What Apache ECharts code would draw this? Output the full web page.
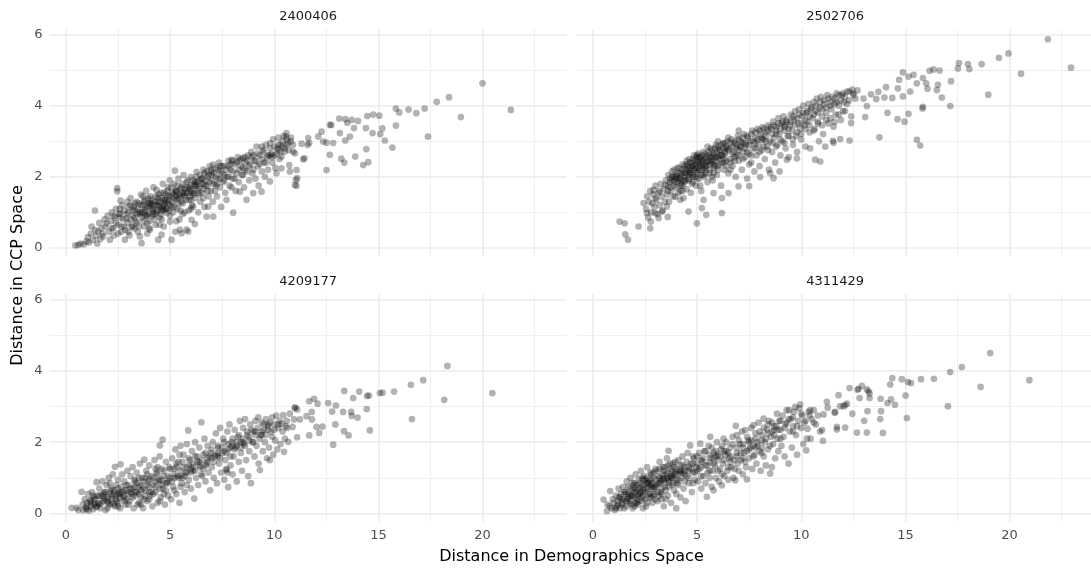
<!DOCTYPE html>
<html>
<head>
<meta charset="utf-8">
<title>Distance in CCP Space vs Demographics Space</title>
<script src="https://cdn.jsdelivr.net/npm/echarts@6/dist/echarts.min.js"></script>
<style>
html, body { margin: 0; padding: 0; background: #fff; }
#chart { width: 1091px; height: 570px; }
</style>
</head>
<body>
<div id="chart"></div>
<script>
// facet labels, in panel order (top-left, top-right, bottom-left, bottom-right)
const panelNames = ['2400406', '2502706', '4209177', '4311429'];

// tick positions
const xMajorTicks = [0, 5, 10, 15, 20];
const xMinorTicks = [2.5, 7.5, 12.5, 17.5, 22.5];
const yMajorTicks = [0, 2, 4, 6];
const yMinorTicks = [1, 3, 5];

// [distance in demographics space, distance in CCP space]
const pts2400406 = [
  [0.45,0.07],[0.59,0.08],[0.7,0.12],[0.85,0.1],[0.99,0.18],[1.05,0.3],[1.1,0.15],[1.23,0.6],[1.2,0.4],[1.3,0.22],[1.39,1.05],[1.4,0.5],[1.45,0.33],[1.5,0.12],[1.55,0.46],
  [1.6,0.7],[1.65,0.25],[1.7,0.55],[1.75,0.4],[1.79,0.32],[1.85,0.8],[1.9,0.6],[1.95,0.69],[2.0,0.9],[2.05,0.45],[2.11,0.23],[2.15,0.75],[2.2,1.0],[2.27,0.55],[2.3,0.35],[2.35,0.85],[2.4,1.1],[2.46,1.68],[2.46,1.59],[2.5,0.65],[2.55,0.95],[2.59,0.96],[2.62,1.33],[2.65,0.45],[2.67,0.6],[2.7,1.2],[2.75,0.8],[2.8,1.05],[2.83,0.23],[2.85,0.5],[2.9,0.83],[2.95,1.3],[2.98,0.7],
  [3.0,1.0],[3.05,0.35],[3.1,1.4],[3.15,0.6],[3.2,0.9],[3.25,1.15],[3.3,1.07],[3.35,0.75],[3.4,1.3],[3.45,0.45],[3.5,1.0],[3.55,0.32],[3.6,1.5],[3.63,0.13],[3.65,0.85],[3.7,1.2],[3.75,0.6],[3.79,1.35],[3.8,1.05],[3.85,1.6],[3.87,0.93],[3.9,0.4],[3.95,1.25],[4.0,0.75],[4.03,0.51],[4.05,1.45],[4.1,1.1],[4.15,0.9],[4.2,1.7],[4.25,1.3],[4.3,0.65],[4.35,1.63],[4.35,1.0],[4.4,1.4],[4.43,0.23],[4.45,1.2],[4.5,0.85],[4.55,1.55],[4.59,0.37],[4.6,1.05],[4.65,1.8],[4.67,1.35],[4.7,0.6],[4.75,1.25],[4.8,1.5],[4.83,0.98],[4.85,1.1],[4.9,1.7],[4.95,1.35],[4.99,0.74],[4.98,1.9],[3.4,0.95],[3.7,1.45],[4.0,1.2],[4.2,0.95],[4.5,1.3],[4.7,1.05],[3.3,0.55],[3.9,0.7],[4.6,0.8],
  [5.02,1.2],[5.07,0.23],[5.1,1.55],[5.15,1.0],[5.2,1.8],[5.23,2.17],[5.25,0.45],[5.3,1.35],[5.31,1.58],[5.35,1.1],[5.4,1.95],[5.45,0.8],[5.47,0.51],[5.5,1.45],[5.55,0.41],[5.55,1.7],[5.6,1.25],[5.65,2.05],[5.7,1.0],[5.75,1.55],[5.79,0.51],[5.8,1.85],[5.87,0.46],[5.9,1.35],[5.95,1.65],[6.0,2.0],[6.03,0.79],[6.05,1.2],[6.1,1.5],[6.11,1.16],[6.15,1.8],[6.19,0.67],[6.2,1.4],[6.27,2.14],[6.3,1.65],[6.35,1.0],[6.4,1.9],[6.45,1.3],[6.51,1.95],[6.55,1.55],[6.6,2.2],[6.65,1.15],[6.7,1.75],[6.75,0.88],[6.8,2.0],[6.83,1.16],[6.85,1.45],[6.9,2.3],[6.95,1.6],[5.6,0.95],[5.9,1.05],[6.25,1.75],[6.6,1.4],[5.3,0.75],[6.0,1.55],
  [7.0,1.9],[7.05,1.3],[7.07,0.88],[7.07,2.34],[7.1,2.1],[7.15,1.6],[7.2,2.25],[7.25,1.45],[7.3,1.95],[7.35,2.4],[7.4,1.7],[7.45,1.15],[7.5,2.1],[7.55,1.85],[7.6,2.3],[7.65,1.55],[7.71,1.35],[7.75,2.0],[7.8,2.45],[7.85,1.75],[7.9,2.2],[7.95,2.48],[8.0,1.95],[8.03,0.99],[8.1,2.35],[8.15,1.6],[8.2,2.1],[8.25,2.55],[8.3,1.85],[8.35,1.58],[8.4,2.3],[8.45,2.05],[8.51,2.53],[8.55,1.7],[8.6,2.4],[8.67,1.35],[8.7,2.15],[8.75,2.6],[8.8,1.9],[8.85,2.35],[8.9,2.7],[8.95,2.1],[8.99,1.54],[7.4,2.15],[7.95,1.7],[8.5,2.25],[7.25,1.8],
  [9.05,2.45],[9.1,1.95],[9.15,2.85],[9.2,2.3],[9.25,1.75],[9.3,2.6],[9.39,1.58],[9.4,2.15],[9.45,2.75],[9.5,2.4],[9.55,2.0],[9.6,2.9],[9.65,2.55],[9.7,2.2],[9.79,1.87],[9.8,2.95],[9.85,2.65],[9.9,2.4],[9.95,3.05],[10.0,2.6],[10.05,2.25],[10.11,2.1],[10.15,2.8],[10.2,3.1],[10.25,2.5],[10.3,2.9],[10.35,2.57],[10.35,2.24],[10.4,2.85],[10.45,3.15],[10.51,2.71],[10.56,3.13],[10.59,3.23],[10.67,2.95],[10.72,2.33],[10.75,2.15],[10.8,3.0],[10.91,2.71],[10.99,1.77],[10.99,2.66],
  [11.04,1.91],[11.07,1.75],[11.07,2.19],[11.1,1.96],[11.31,2.93],[11.39,2.49],[11.45,2.52],[11.63,3.09],[11.6,2.9],[11.68,2.95],[12.11,3.13],[12.27,3.27],[12.35,2.99],[12.51,2.96],[12.51,2.19],[12.67,2.62],[12.67,3.46],[12.74,3.46],[12.83,2.95],[13.12,3.64],[13.15,3.23],[13.22,2.51],[13.36,2.4],[13.41,3.62],[13.41,3.02],[13.51,3.52],[13.63,3.13],[13.72,3.6],[13.83,3.37],[13.89,2.57],[14.02,3.57],[14.27,2.33],[14.4,3.37],[14.42,2.78],[14.47,3.71],[14.51,2.41],[14.72,3.23],[14.75,3.75],[15.04,3.72],[15.09,3.2],[15.19,3.36],[15.31,3.02],[15.67,2.82],[15.84,3.92],[15.84,3.44],[16.0,3.81],[16.45,3.89],[16.82,3.79],[17.22,3.92],[17.38,3.13],[17.8,4.11],[18.39,4.24],[18.96,3.68],[20.0,4.63],[21.36,3.88]
];
// the dark core of the cloud
const dense2400406 = [
  [2.2,0.55],[2.4,0.7],[2.6,0.85],[2.8,0.6],[3.0,1.15],[3.1,0.8],[3.2,1.05],[3.3,1.25],[3.4,0.7],[3.45,1.1],[3.55,0.95],[3.6,1.2],[3.7,0.75],[3.75,1.3],[3.8,0.9],[3.9,1.15],[3.95,1.4],[4.0,0.95],[4.05,1.25],[4.1,1.35],[4.15,1.05],[4.2,1.2],[4.25,0.8],[4.3,1.45],[4.35,1.2],[4.4,1.05],[4.45,1.5],[4.5,1.15],[4.55,0.95],[4.6,1.4],[4.65,1.15],[4.7,1.55],[4.75,1.35],[4.8,1.1],[4.85,1.6],[4.9,1.25],[4.95,1.05],[5.0,1.45],[5.05,1.7],[5.1,1.3],[5.15,1.5],[5.2,1.15],[5.25,1.6],[5.3,1.45],[5.35,1.75],[5.4,1.25],[5.45,1.5],[5.5,1.65],[5.55,1.3],[5.6,1.8],[5.65,1.5],[5.7,1.65],[5.75,1.35],[5.8,1.55],[5.85,1.9],[5.9,1.7],[5.95,1.45],[6.0,1.75],[6.05,1.6],[6.1,1.9],[6.15,1.55],[6.2,1.75],[6.25,2.0],[6.3,1.85],[6.35,1.55],[6.4,1.7],[6.45,2.05],[6.5,1.8],[6.55,1.95],[6.6,1.65],[6.65,2.1],[6.7,1.9],[6.75,2.15],[6.8,1.75],[6.85,2.05],[6.9,1.85],[6.95,2.2],[7.0,2.05],[7.1,1.8],[7.2,2.0],[7.3,2.2],[7.4,1.95],[7.5,2.3],[7.6,2.05],[7.7,2.2],[7.8,2.0],[7.9,2.35],[8.0,2.15],[8.1,1.95],[8.2,2.4],[8.3,2.2],[8.4,2.5],[8.5,2.05],[8.6,2.2],[8.7,2.45],[8.8,2.3],[8.9,2.55],[9.0,2.2],[9.1,2.45],[9.2,2.65],[9.3,2.35],[9.4,2.5],[9.5,2.7],[9.6,2.4],[9.7,2.6],[9.8,2.8],[9.9,2.55],[10.0,2.85],[10.1,2.65],[10.2,2.9],[10.3,2.7],[10.4,3.0],[10.5,2.8],[10.6,3.05],[10.7,2.75],[10.8,3.1],[10.9,2.9],[3.5,0.6],[4.0,0.55],[2.5,0.4],[3.0,0.45],[4.5,0.65],[5.0,0.9],[5.5,1.05],[6.0,1.1],
  [2.3,0.9],[2.6,1.1],[2.9,0.95],[3.1,1.2],[3.3,0.85],[3.5,1.25],[3.6,1.0],[3.8,1.1],[3.9,0.9],[4.1,1.25],[4.3,0.95],[4.4,1.3],[4.6,1.1],[4.8,1.3],[4.9,1.45],[5.1,1.15],[5.3,1.6],[5.4,1.4],[5.6,1.55],[5.8,1.7],[6.0,1.35],[6.2,1.85],[6.4,1.5],[6.6,1.8],[6.8,1.6],[7.0,2.15],[7.2,1.75],[7.4,2.3],[7.6,1.9],[7.8,2.3],[8.0,2.45],[8.3,2.45],[8.6,2.55],[9.0,2.6],[9.4,2.85],[9.8,2.6],[10.2,2.75],[10.6,2.9],[3.2,0.6],[3.7,1.0],[4.2,1.1],[4.7,1.2],[5.2,1.4],[5.7,1.45]
];

const pts2502706 = [
  [1.28,0.74],[1.52,0.69],[1.55,0.38],[1.68,0.23],[2.19,0.6],[2.75,0.55],[2.78,0.74],[2.43,1.26],[2.59,0.98],[2.91,1.63],[2.99,0.98],[3.15,0.84],[3.31,1.02],[3.47,1.77],[3.55,1.16],[3.59,0.87],[3.87,2.01],[3.95,1.44],[4.19,1.35],[4.59,1.02],[4.99,0.69],[5.23,1.12],[5.44,0.93],[5.31,1.35],[5.79,1.54],[6.19,0.98],[6.19,1.4],[6.51,1.54],[6.99,1.73],[7.5,1.74],[8.03,1.99],[8.67,1.96],[8.96,2.15],[8.51,2.1],[9.31,2.48],[9.79,2.52],[10.43,2.8],[10.67,2.48],[10.91,2.43],[11.15,2.85],[11.55,3.41],[11.55,2.96],
  [2.55,1.1],[2.6,1.45],[2.65,0.85],[2.7,1.3],[2.75,1.6],[2.8,1.0],[2.85,1.25],[2.9,1.5],[2.95,1.15],[3.0,1.75],[3.05,1.35],[3.1,0.95],[3.15,1.55],[3.2,1.2],[3.25,1.8],[3.3,1.45],[3.35,1.05],[3.4,1.65],[3.45,1.3],[3.5,1.9],[3.0,1.4],[3.2,1.6],
  [3.55,1.5],[3.6,1.75],[3.62,2.05],[3.65,1.3],[3.7,1.95],[3.75,1.6],[3.8,2.15],[3.85,1.45],[3.9,1.85],[3.95,2.0],[4.0,1.7],[4.05,2.25],[4.1,1.55],[4.15,1.95],[4.2,2.1],[4.25,1.8],[4.3,2.35],[4.35,1.4],[4.4,2.0],[4.45,2.2],[4.5,1.65],[3.7,1.7],[3.9,2.2],[4.1,1.9],[4.3,1.75],[4.45,1.9],[3.8,1.9],[4.0,2.05],[4.2,1.6],[4.38,2.12],
  [4.55,2.3],[4.6,1.9],[4.62,2.5],[4.65,2.1],[4.7,1.55],[4.75,2.4],[4.8,2.0],[4.85,2.6],[4.9,2.25],[4.95,1.75],[5.0,2.45],[5.02,2.1],[5.05,2.65],[5.1,1.95],[5.12,2.35],[5.15,2.55],[5.2,1.6],[5.25,2.2],[5.28,2.45],[5.3,2.7],[5.35,2.0],[5.4,2.3],[5.45,2.55],[5.5,1.85],[4.7,2.2],[4.9,2.45],[5.1,2.2],[5.3,2.35],[4.8,2.3],[5.0,2.25],[5.2,2.5],[5.4,2.1],[4.6,2.15],[5.45,2.4],[4.75,1.8],[5.15,1.75],
  [5.55,2.6],[5.6,2.2],[5.65,2.8],[5.7,2.4],[5.75,1.9],[5.8,2.65],[5.85,2.3],[5.9,2.9],[5.95,2.05],[6.0,2.55],[6.05,2.75],[6.1,2.35],[6.15,1.75],[6.2,2.6],[6.25,2.95],[6.3,2.2],[6.35,2.7],[6.4,2.45],[6.45,3.0],[6.5,2.1],[5.7,2.55],[5.9,2.45],[6.1,2.6],[6.3,2.5],[6.0,2.3],[5.6,2.45],[6.4,2.8],[5.8,2.1],
  [6.55,2.8],[6.6,2.5],[6.65,3.05],[6.7,2.3],[6.75,2.7],[6.8,2.95],[6.85,2.0],[6.9,2.6],[6.95,3.15],[7.0,2.45],[7.05,2.85],[7.1,3.0],[7.15,2.2],[7.2,2.7],[7.25,3.2],[7.3,2.55],[7.35,2.9],[7.4,1.95],[7.45,3.1],[7.5,2.65],[6.7,2.85],[7.0,2.75],[7.3,2.8],[6.9,2.9],[7.2,2.95],
  [7.55,3.0],[7.6,2.4],[7.65,3.3],[7.7,2.8],[7.75,2.15],[7.8,3.1],[7.85,2.6],[7.9,3.35],[7.95,2.9],[8.0,2.3],[8.05,3.2],[8.1,2.75],[8.15,3.4],[8.2,3.05],[8.25,2.5],[8.3,3.25],[8.35,2.85],[8.4,3.45],[8.45,2.2],[8.5,3.0],[7.8,2.95],[8.1,3.05],[8.3,3.0],
  [8.55,3.35],[8.6,2.7],[8.65,3.55],[8.7,3.1],[8.75,2.4],[8.8,3.4],[8.85,2.9],[8.9,3.65],[8.95,3.2],[9.0,2.6],[9.05,3.5],[9.1,3.0],[9.15,3.7],[9.2,3.3],[9.25,2.8],[9.3,3.55],[9.35,3.15],[9.4,2.55],[9.45,3.45],[9.5,3.75],[8.8,3.2],[9.2,3.45],
  [9.55,3.3],[9.6,2.9],[9.65,3.6],[9.7,3.85],[9.75,3.15],[9.8,2.7],[9.85,3.5],[9.9,3.9],[9.95,3.35],[10.0,3.05],[10.05,3.7],[10.1,4.0],[10.15,3.45],[10.2,2.85],[10.25,3.8],[10.3,3.55],[10.35,4.05],[10.4,3.25],[10.45,3.9],
  [10.55,3.65],[10.6,4.1],[10.65,3.35],[10.7,3.85],[10.75,4.2],[10.8,3.55],[10.85,3.0],[10.9,3.95],[10.95,4.25],[11.0,3.7],[11.05,3.2],[11.1,4.05],[11.2,3.8],[11.25,4.3],[11.3,3.5],[11.4,4.1],[11.45,3.9],
  [11.6,4.2],[11.65,3.75],[11.7,4.35],[11.8,4.0],[11.9,3.6],[11.95,4.3],[12.05,4.1],[12.1,3.85],[12.2,4.4],[12.3,4.15],[12.4,3.7],[12.45,4.45],
  [11.52,3.01],[11.87,3.06],[12.32,3.02],[12.39,3.51],[12.51,4.3],[12.7,4.43],[12.99,4.2],[13.07,3.68],[13.15,3.99],[13.35,4.32],[13.6,4.19],[13.7,4.39],[13.75,3.11],[13.99,4.23],[14.07,4.52],[14.14,3.8],[14.37,4.22],[14.62,3.62],[14.64,4.49],[14.7,4.73],[14.88,4.26],[14.88,4.94],[14.96,3.55],[15.15,3.77],[15.15,4.82],[15.23,4.4],[15.39,4.87],[15.55,3.04],[15.55,4.63],[15.71,2.88],[15.82,3.92],[15.84,3.97],[15.84,4.78],[16.0,4.63],[16.06,4.48],[16.16,4.98],[16.35,5.02],[16.51,4.44],[16.56,4.59],[16.64,4.99],[16.75,4.23],[17.15,3.99],[17.19,4.69],[17.52,5.05],[17.57,5.2],[18.0,5.17],[18.07,5.03],[18.66,5.17],[18.98,4.31],[19.49,5.35],[19.95,5.47],[20.55,4.9],[21.84,5.87],[22.95,5.07]
];
const dense2502706 = [
  [3.6,1.6],[3.7,1.85],[3.8,2.0],[3.9,1.75],[4.0,1.95],[4.05,1.85],[4.1,2.1],[4.15,2.25],[4.2,1.95],[4.25,2.05],[4.3,2.2],[4.35,1.9],[4.4,2.3],[4.45,2.1],[4.5,2.35],[4.55,2.05],[4.6,2.25],[4.65,2.4],[4.7,2.1],[4.75,2.3],[4.8,2.5],[4.85,2.2],[4.9,2.35],[4.95,2.55],[5.0,2.15],[5.05,2.4],[5.1,2.55],[5.15,2.3],[5.2,2.4],[5.25,2.6],[5.3,2.25],[5.35,2.5],[5.4,2.65],[5.45,2.3],[5.5,2.45],[5.55,2.7],[5.6,2.35],[5.65,2.55],[5.7,2.75],[5.75,2.45],[5.8,2.6],[5.85,2.8],[5.9,2.55],[5.95,2.7],[6.0,2.85],[6.05,2.5],[6.1,2.75],[6.15,2.9],[6.2,2.6],[6.25,2.8],[6.3,2.95],[6.35,2.65],[6.4,2.85],[6.5,2.75],[6.6,2.95],[6.7,2.65],[6.8,3.0],[6.9,2.8],[7.0,3.05],[7.1,2.85],[7.2,3.1],[7.3,2.95],[7.4,3.15],[7.5,2.9],[7.6,3.2],[7.7,3.0],[7.8,3.25],[7.9,3.05],[8.0,3.3],[8.1,3.1],[8.2,3.35],[8.3,3.15],[8.4,3.3],[8.5,3.4],[8.6,3.2],[8.7,3.45],[8.8,3.3],[8.9,3.5],[9.0,3.35],[9.1,3.55],[9.2,3.4],[9.3,3.6],[9.4,3.35],[9.5,3.55],[9.6,3.7],[9.7,3.45],[9.8,3.65],[9.9,3.75],[10.0,3.5],[10.1,3.8],[10.2,3.6],[10.3,3.85],[10.4,3.7],[10.5,3.95],[10.6,3.75],[10.7,4.0],[10.8,3.8],[10.9,4.1],[11.0,3.9],[11.1,4.15],[11.2,3.95],[11.3,4.2],[11.4,4.0],[11.5,4.25],[11.6,4.05],[11.7,4.1],[11.8,4.3],[11.9,4.15],[12.0,4.35],[12.1,4.25],[12.2,4.05],[12.3,4.4],[12.5,4.35],[12.6,4.2],[4.3,1.6],[4.8,1.85],[5.3,2.05],[5.8,2.25],[6.3,2.4],[6.8,2.55],
  [4.2,1.75],[4.4,1.85],[4.6,1.95],[4.8,2.05],[5.0,1.95],[5.2,2.05],[5.4,2.2],[5.6,2.1],[5.8,2.35],[6.0,2.2],[6.2,2.4],[6.4,2.3],[6.6,2.4],[6.8,2.45],[7.0,2.6],[7.2,2.5],[7.4,2.7],[7.6,2.6],[7.8,2.8],[8.0,2.7],[8.2,2.85],[8.4,2.75],[8.6,2.95],[8.8,2.85],[9.0,3.05],[9.2,2.95],[9.4,3.15],[9.6,3.05],[9.8,3.25],[10.0,3.2],[10.2,3.35],[10.4,3.45],[10.6,3.3],[10.8,3.5],[11.0,3.45],[11.2,3.6],[11.4,3.65],[11.6,3.55],[11.8,3.75],[12.0,3.85],[4.5,2.45],[5.0,2.6],[5.5,2.85],[6.0,3.0],[6.5,3.1],[7.0,3.3],[4.9,2.0],[5.7,2.0],[6.6,2.2],[7.5,2.35]
];

const pts4209177 = [
  [0.27,0.16],[0.51,0.16],[0.6,0.1],[0.75,0.61],[0.8,0.25],[0.83,0.09],[0.9,0.4],[0.95,0.15],[1.0,0.3],[1.05,0.55],[1.1,0.08],[1.15,0.35],[1.2,0.2],[1.25,0.6],[1.3,0.12],[1.35,0.45],[1.4,0.28],[1.45,0.18],[1.47,0.88],[1.5,0.5],[1.0,0.12],[1.2,0.38],[1.35,0.25],
  [1.55,0.3],[1.6,0.7],[1.65,0.15],[1.7,0.5],[1.75,0.9],[1.8,0.35],[1.85,0.6],[1.9,0.1],[1.95,0.8],[2.0,0.45],[2.05,1.0],[2.1,0.25],[2.15,0.65],[2.2,0.4],[2.25,1.1],[2.3,0.55],[2.35,1.31],[2.35,0.2],[2.4,0.8],[2.45,0.35],[2.5,0.95],[2.55,0.6],[2.6,0.15],[2.62,1.38],[2.65,0.75],[2.7,1.1],[2.75,0.45],[2.8,0.9],[2.85,0.25],[2.9,0.65],[2.95,1.2],[1.8,0.55],[2.0,0.3],[2.2,0.7],[2.4,0.5],[2.6,0.55],[2.8,0.65],[2.1,0.85],[2.5,0.3],[2.9,0.4],
  [3.0,0.8],[3.05,0.35],[3.1,1.05],[3.15,0.55],[3.2,1.3],[3.25,0.15],[3.3,0.9],[3.35,0.6],[3.4,1.15],[3.45,0.25],[3.5,0.75],[3.55,1.4],[3.6,0.45],[3.65,1.0],[3.7,0.15],[3.76,1.51],[3.8,0.65],[3.85,1.2],[3.9,0.35],[3.95,0.9],[4.0,1.35],[4.05,0.5],[4.1,1.05],[4.15,0.2],[4.2,0.8],[4.25,1.5],[4.3,0.6],[4.35,1.15],[4.4,0.3],[4.45,0.95],[4.5,1.6],[4.51,1.91],[4.55,0.45],[4.6,1.25],[4.64,2.07],[4.65,0.7],[4.7,1.05],[4.75,0.25],[4.8,1.45],[4.85,0.85],[4.9,0.5],[4.95,1.3],[3.3,0.5],[3.6,0.8],[3.9,1.1],[4.2,0.55],[4.5,0.9],[4.8,0.65],[3.5,1.0],[4.0,0.75],[4.4,1.3],[3.2,0.7],[3.75,0.4],
  [5.0,1.0],[5.05,0.4],[5.1,1.55],[5.15,0.75],[5.2,1.25],[5.25,1.8],[5.3,0.55],[5.35,1.05],[5.4,1.45],[5.45,0.3],[5.5,1.9],[5.55,0.85],[5.6,1.3],[5.65,1.65],[5.7,0.6],[5.75,1.15],[5.8,1.95],[5.87,2.33],[5.9,0.95],[5.95,1.5],[6.0,0.7],[6.05,1.75],[6.1,1.2],[6.16,0.42],[6.2,2.0],[6.25,1.0],[6.3,1.45],[6.35,0.8],[6.4,1.85],[6.45,1.3],[6.5,2.56],[6.55,1.05],[6.6,1.65],[6.65,2.1],[6.7,0.9],[6.75,1.4],[6.8,1.9],[6.85,1.15],[6.92,0.65],[6.95,1.7],[5.3,1.3],[5.6,1.0],[5.9,1.35],[6.2,1.6],[6.5,1.1],[6.8,1.55],[5.45,1.65],[6.0,1.25],
  [7.0,1.3],[7.05,2.0],[7.1,1.0],[7.15,1.6],[7.2,2.25],[7.25,0.85],[7.3,1.85],[7.35,1.4],[7.4,2.4],[7.45,1.15],[7.5,1.7],[7.55,2.1],[7.6,0.95],[7.65,1.5],[7.71,1.22],[7.75,2.3],[7.79,0.74],[7.8,1.8],[7.85,2.5],[7.9,1.35],[7.95,2.0],[8.0,1.1],[8.05,1.6],[8.1,2.35],[8.15,1.85],[8.2,0.9],[8.25,2.15],[8.3,1.45],[8.35,2.6],[8.4,1.7],[8.45,1.2],[8.5,2.4],[8.55,1.95],[8.6,2.65],[8.65,1.5],[8.7,2.2],[8.75,1.05],[8.8,1.75],[8.85,2.5],[8.88,0.85],[8.95,2.0],[7.7,1.25],[7.75,1.15],[8.0,1.9],[8.4,2.0],[7.3,1.6],
  [9.0,2.3],[9.05,1.6],[9.1,2.6],[9.15,1.9],[9.23,2.7],[9.25,1.4],[9.31,1.22],[9.35,2.2],[9.4,2.55],[9.45,1.75],[9.5,2.35],[9.55,2.0],[9.6,2.65],[9.65,1.55],[9.7,2.45],[9.75,1.85],[9.79,1.5],[9.85,2.3],[9.9,2.7],[9.95,1.65],[10.0,2.5],[10.05,2.05],[10.1,2.75],[10.15,1.8],[10.2,2.4],[10.25,2.6],[10.3,1.95],[10.35,2.52],[10.43,2.76],[10.47,1.73],[10.51,2.1],[10.55,2.45],[10.62,2.4],[10.67,2.01],[10.75,2.8],[10.88,2.43],[10.99,2.96],[10.95,2.64],[11.0,2.98],
  [11.1,2.92],[11.1,2.14],[11.23,2.64],[11.55,2.73],[11.68,3.15],[11.68,2.19],[11.8,2.85],[11.81,2.64],[11.91,3.22],[12.03,2.43],[12.08,3.08],[12.16,2.26],[12.32,2.44],[12.59,3.1],[12.78,2.86],[12.83,1.93],[12.93,2.5],[12.96,3.03],[13.31,2.85],[13.35,2.31],[13.36,3.44],[13.57,2.19],[13.69,2.85],[13.72,2.74],[13.79,3.24],[14.0,2.69],[14.08,3.42],[14.44,2.93],[14.45,3.3],[14.55,3.31],[14.59,2.33],[15.07,3.38],[15.2,3.39],[15.75,3.42],[16.56,3.61],[16.61,2.65],[17.15,3.74],[18.16,3.19],[18.31,4.14],[20.47,3.38]
];
const dense4209177 = [
  [1.0,0.2],[1.2,0.3],[1.4,0.4],[1.5,0.2],[1.6,0.5],[1.7,0.3],[1.8,0.45],[1.9,0.6],[2.0,0.35],[2.1,0.55],[2.2,0.3],[2.3,0.65],[2.4,0.4],[2.5,0.7],[2.6,0.45],[2.7,0.6],[2.8,0.35],[2.9,0.8],[3.0,0.55],[3.1,0.7],[3.2,0.45],[3.3,0.75],[3.4,0.85],[3.5,0.55],[3.6,0.65],[3.7,0.9],[3.8,0.5],[3.9,0.8],[4.0,0.95],[4.1,0.6],[4.2,1.0],[4.3,0.75],[4.4,1.1],[4.5,0.7],[4.6,0.95],[4.7,1.2],[4.8,0.85],[4.9,1.05],[5.0,1.25],[5.1,0.9],[5.2,1.1],[5.3,1.4],[5.4,1.0],[5.5,1.2],[5.6,1.45],[5.7,1.05],[5.8,1.3],[5.9,1.55],[6.0,1.15],[6.1,1.4],[6.2,1.2],[6.3,1.6],[6.4,1.35],[6.5,1.5],[6.6,1.25],[6.7,1.7],[6.8,1.45],[6.9,1.6],[7.0,1.8],[7.1,1.45],[7.2,1.65],[7.3,1.9],[7.4,1.55],[7.5,1.85],[7.6,2.0],[7.7,1.7],[7.8,1.95],[7.9,1.6],[8.0,2.1],[8.1,1.8],[8.2,2.0],[8.3,2.2],[8.4,1.85],[8.5,2.1],[8.6,1.9],[8.7,2.3],[8.8,2.05],[8.9,2.35],[9.0,2.0],[9.1,2.2],[9.2,2.4],[9.3,2.1],[9.4,2.3],[9.5,2.5],[9.6,2.2],[9.7,2.35],[9.8,2.55],[9.9,2.15],[10.0,2.35],[10.2,2.5],[10.4,2.3],[10.6,2.6],[2.0,0.15],[2.5,0.2],[3.0,0.25],[3.5,0.3],[4.0,0.4],[4.5,0.35],[1.3,0.5],[3.3,0.95],[3.8,1.0],[4.3,1.25],[5.2,0.65],[5.8,0.8],
  [1.6,0.25],[1.9,0.4],[2.2,0.5],[2.5,0.55],[2.8,0.5],[3.1,0.6],[3.4,0.6],[3.7,0.7],[4.0,0.6],[4.3,0.9],[4.6,0.8],[4.9,0.9],[5.2,1.0],[5.5,1.05],[5.8,1.15],[6.1,1.3],[6.4,1.45],[6.7,1.35],[7.0,1.55],[7.3,1.7],[7.6,1.75],[7.9,1.85],[8.2,1.9],[8.5,2.0],[8.8,2.15],[9.1,2.3],[9.4,2.2],[9.7,2.5],[2.3,0.25],[3.6,0.25],[4.7,0.55],[5.5,0.75]
];

const pts4311429 = [
  [0.51,0.39],[0.67,0.07],[0.7,0.25],[0.83,0.63],[0.9,0.15],[0.95,0.4],[1.0,0.3],[1.05,0.1],[1.1,0.5],[1.15,0.2],[1.2,0.35],[1.23,0.7],[1.3,0.15],[1.35,0.55],[1.4,0.25],[1.45,0.75],[1.5,0.4],[0.8,0.2],[1.25,0.45],
  [1.55,0.6],[1.6,0.2],[1.62,0.9],[1.65,0.4],[1.7,0.75],[1.75,0.3],[1.8,1.0],[1.85,0.5],[1.9,0.15],[1.95,0.8],[2.0,0.45],[2.05,1.1],[2.1,0.65],[2.15,0.25],[2.2,0.95],[2.25,0.55],[2.3,1.2],[2.35,0.35],[2.4,0.8],[2.45,1.05],[2.5,0.6],[2.55,0.2],[2.6,1.3],[2.65,0.9],[2.7,0.45],[2.75,1.15],[2.8,0.7],[2.85,0.3],[2.9,1.0],[2.95,0.55],[1.7,0.55],[1.9,0.65],[2.1,0.4],[2.3,0.75],[2.5,0.95],[2.7,0.85],[2.9,0.75],[2.0,0.85],[2.4,0.5],[2.8,1.1],[2.2,0.7],[2.6,0.7],[1.8,0.35],[2.35,1.0],[2.75,0.55],
  [3.0,1.25],[3.05,0.8],[3.1,0.35],[3.15,1.05],[3.2,1.45],[3.25,0.6],[3.3,0.95],[3.35,1.3],[3.4,0.2],[3.45,0.75],[3.5,1.1],[3.55,1.55],[3.6,0.5],[3.63,1.76],[3.65,0.9],[3.7,1.25],[3.75,0.3],[3.8,1.0],[3.85,1.4],[3.9,0.65],[3.95,1.15],[4.0,0.15],[4.05,0.85],[4.1,1.5],[4.15,1.2],[4.2,0.45],[4.25,1.0],[4.3,1.6],[4.35,0.7],[4.4,1.3],[4.45,0.35],[4.5,1.05],[4.55,1.7],[4.6,0.85],[4.67,1.91],[4.7,1.4],[4.75,0.6],[4.8,1.15],[4.85,1.55],[4.9,0.95],[4.95,1.3],[3.2,1.0],[3.5,0.85],[3.7,1.05],[3.9,1.3],[4.1,0.95],[4.3,1.15],[4.6,1.2],[3.4,1.2],[3.8,0.8],[4.2,1.35],[3.3,0.55],[3.6,1.35],[4.0,1.1],[4.4,0.9],[4.8,0.85],
  [5.0,1.6],[5.05,0.9],[5.1,1.25],[5.15,1.96],[5.2,0.7],[5.25,1.45],[5.3,1.05],[5.35,1.75],[5.4,0.85],[5.47,0.47],[5.5,1.35],[5.55,1.9],[5.6,1.0],[5.63,2.15],[5.65,1.55],[5.7,0.75],[5.75,1.2],[5.79,0.65],[5.8,1.7],[5.85,1.35],[5.9,1.0],[5.95,2.0],[6.0,1.5],[6.05,0.9],[6.1,1.25],[6.15,1.8],[6.19,0.79],[6.25,1.4],[6.27,2.1],[6.3,1.05],[6.35,1.65],[6.4,2.0],[6.45,1.2],[6.5,0.95],[6.55,1.55],[6.6,1.85],[6.65,1.3],[6.7,2.15],[6.75,1.0],[6.83,0.93],[6.86,2.46],[6.9,1.7],[6.91,2.2],[6.95,1.4],[5.2,1.3],[5.6,1.45],[5.9,1.6],[6.2,1.1],[6.5,1.7],[6.8,1.5],
  [7.0,1.2],[7.05,1.95],[7.1,1.5],[7.15,2.3],[7.2,1.1],[7.25,1.7],[7.31,2.34],[7.35,1.3],[7.39,0.96],[7.45,2.05],[7.5,1.55],[7.55,1.85],[7.6,2.4],[7.65,1.25],[7.71,2.48],[7.75,1.65],[7.8,2.1],[7.85,1.4],[7.9,1.9],[7.95,2.55],[8.0,1.75],[8.05,1.2],[8.1,2.2],[8.19,2.66],[8.2,1.6],[8.25,2.0],[8.3,1.35],[8.35,2.35],[8.4,1.8],[8.45,2.6],[8.51,1.12],[8.55,2.15],[8.59,1.3],[8.65,1.95],[8.7,2.45],[8.75,1.55],[8.83,2.8],[8.85,2.1],[8.9,1.75],[8.95,2.6],[7.4,1.75],[7.7,1.9],[8.1,1.7],[8.6,2.3],[7.2,1.55],
  [9.0,2.35],[9.05,1.9],[9.1,2.75],[9.15,2.15],[9.2,1.6],[9.25,2.5],[9.3,2.9],[9.39,1.4],[9.42,2.9],[9.45,2.3],[9.5,2.65],[9.55,1.85],[9.6,2.45],[9.65,2.85],[9.71,2.99],[9.75,2.2],[9.8,1.65],[9.85,2.6],[9.9,2.95],[9.95,3.06],[10.0,2.4],[10.05,2.75],[10.1,1.95],[10.15,2.55],[10.24,1.77],[10.27,2.1],[10.3,2.38],[10.35,2.85],[10.43,2.9],[10.45,2.1],[10.5,2.65],[10.6,2.9],[10.7,2.5],[10.8,2.75],[10.9,2.3],[11.0,2.34],[11.04,2.04],[11.07,2.78],
  [11.23,3.13],[11.27,2.97],[11.6,2.83],[11.63,2.85],[11.71,2.43],[11.71,2.36],[11.79,3.32],[11.87,3.01],[12.03,3.01],[12.11,2.41],[12.11,3.04],[12.19,3.08],[12.32,3.52],[12.45,2.8],[12.67,2.27],[12.7,3.47],[12.75,3.5],[12.8,3.24],[12.91,3.58],[13.02,2.6],[13.15,2.27],[13.15,3.48],[13.18,2.87],[13.23,3.43],[13.28,3.24],[13.28,3.37],[13.79,2.65],[13.81,3.22],[13.83,2.87],[13.92,2.26],[14.14,3.1],[14.27,3.62],[14.31,3.2],[14.37,3.8],[14.5,3.05],[14.83,3.77],[15.01,3.31],[15.07,2.68],[15.12,3.69],[15.27,3.66],[15.75,3.77],[16.37,3.78],[17.04,3.01],[17.15,3.97],[17.71,4.11],[18.61,3.55],[19.07,4.5],[20.95,3.74]
];
const dense4311429 = [
  [1.2,0.25],[1.4,0.4],[1.5,0.6],[1.6,0.35],[1.7,0.45],[1.8,0.7],[1.85,0.25],[1.9,0.5],[2.0,0.6],[2.05,0.3],[2.1,0.8],[2.15,0.5],[2.2,0.35],[2.25,0.85],[2.3,0.6],[2.35,0.45],[2.4,0.95],[2.45,0.7],[2.5,0.4],[2.55,0.85],[2.6,1.0],[2.65,0.55],[2.7,0.75],[2.75,0.95],[2.8,0.45],[2.85,0.85],[2.9,1.15],[2.95,0.7],[3.0,0.95],[3.05,1.2],[3.1,0.6],[3.15,0.85],[3.2,1.25],[3.25,0.9],[3.3,0.7],[3.35,1.1],[3.4,0.95],[3.45,1.3],[3.5,0.65],[3.55,1.0],[3.6,1.15],[3.65,0.75],[3.7,1.4],[3.75,1.0],[3.8,1.2],[3.85,0.85],[3.9,1.1],[3.95,1.45],[4.0,1.25],[4.1,0.8],[4.2,1.15],[4.3,1.35],[4.4,1.1],[4.5,1.45],[4.6,1.0],[4.7,1.25],[4.8,1.6],[4.9,1.15],[5.0,1.4],[5.1,1.7],[5.2,1.05],[5.3,1.55],[5.4,1.75],[5.5,1.15],[5.6,1.65],[5.7,1.85],[5.8,1.4],[5.9,1.75],[6.0,1.2],[6.1,1.6],[6.2,1.9],[6.3,1.5],[6.4,1.75],[6.5,1.3],[6.6,1.6],[6.7,1.95],[6.8,1.25],[6.9,1.85],[7.0,2.05],[7.1,1.7],[7.2,1.95],[7.3,1.45],[7.4,2.15],[7.5,1.8],[7.6,2.05],[7.7,1.6],[7.8,2.25],[7.9,2.0],[8.0,2.3],[8.1,1.85],[8.2,2.4],[8.3,2.1],[8.4,2.5],[8.5,1.9],[8.6,2.55],[8.7,2.2],[8.8,2.45],[8.9,2.35],[9.0,2.6],[9.2,2.4],[9.4,2.65],[9.6,2.7],[9.8,2.45],[10.0,2.8],[10.2,2.6],[10.4,2.75],[10.6,2.55],[1.1,0.15],[1.5,0.15],[2.0,0.2],[2.4,0.15],[3.0,0.4],[3.5,0.4],[4.0,0.55],[1.3,0.45],[2.6,0.3],[3.2,0.5],
  [1.4,0.3],[1.6,0.55],[1.8,0.5],[2.0,0.7],[2.2,0.55],[2.4,0.65],[2.6,0.85],[2.8,0.8],[3.0,0.75],[3.2,0.85],[3.4,1.0],[3.6,0.95],[3.8,1.05],[4.0,0.95],[4.2,1.2],[4.4,1.2],[4.6,1.3],[4.8,1.4],[5.0,1.2],[5.2,1.5],[5.4,1.35],[5.6,1.2],[5.8,1.55],[6.0,1.65],[6.3,1.75],[6.6,1.45],[6.9,1.6],[7.2,1.85],[7.5,2.0],[7.8,1.85],[8.1,2.05],[8.4,2.25],[8.7,2.35],[9.0,2.1],[9.3,2.55],[9.6,2.3],[2.1,0.3],[2.9,0.5],[3.3,0.4],[1.9,0.85]
];

const panelData = [
  pts2400406.concat(dense2400406),
  pts2502706.concat(dense2502706),
  pts4209177.concat(dense4209177),
  pts4311429.concat(dense4311429)
];

const chart = echarts.init(document.getElementById('chart'));

const fontFamily = '"DejaVu Sans", "Liberation Sans", sans-serif';
const xMin = -0.79;
const yMin = -0.23, yMax = 6.15;
const grids = [
  { left: 49.5, top: 29.3, width: 517.2, height: 226.7, xMax: 24.04 },
  { left: 576.5, top: 29.3, width: 514.5, height: 226.7, xMax: 23.91 },
  { left: 49.5, top: 294.3, width: 517.2, height: 227.4, xMax: 24.04 },
  { left: 576.5, top: 294.3, width: 514.5, height: 227.4, xMax: 23.91 }
];

const xAxes = [], yAxes = [], series = [], texts = [];
grids.forEach((g, i) => {
  const bottomRow = i >= 2, leftCol = i % 2 === 0;
  // major grid + labels
  xAxes.push({
    gridIndex: i, type: 'value', min: xMin, max: g.xMax,
    axisLine: { show: false },
    axisTick: { show: false, customValues: xMajorTicks },
    axisLabel: { show: bottomRow, customValues: xMajorTicks, color: '#4d4d4d', fontSize: 13, fontFamily: fontFamily, margin: 7 },
    splitLine: { show: true, lineStyle: { color: '#ebebeb', width: 1.6 } }
  });
  // minor grid only
  xAxes.push({
    gridIndex: i, type: 'value', position: 'top', min: xMin, max: g.xMax,
    axisLine: { show: false },
    axisTick: { show: false, customValues: xMinorTicks },
    axisLabel: { show: false },
    splitLine: { show: true, lineStyle: { color: '#ebebeb', width: 0.8 } }
  });
  yAxes.push({
    gridIndex: i, type: 'value', min: yMin, max: yMax,
    axisLine: { show: false },
    axisTick: { show: false, customValues: yMajorTicks },
    axisLabel: { show: leftCol, customValues: yMajorTicks, color: '#4d4d4d', fontSize: 13, fontFamily: fontFamily, margin: 7 },
    splitLine: { show: true, lineStyle: { color: '#ebebeb', width: 1.6 } }
  });
  yAxes.push({
    gridIndex: i, type: 'value', position: 'right', min: yMin, max: yMax,
    axisLine: { show: false },
    axisTick: { show: false, customValues: yMinorTicks },
    axisLabel: { show: false },
    splitLine: { show: true, lineStyle: { color: '#ebebeb', width: 0.8 } }
  });
  series.push({
    name: panelNames[i], type: 'scatter',
    xAxisIndex: i * 2, yAxisIndex: i * 2,
    data: panelData[i],
    symbol: 'circle', symbolSize: 6.7,
    itemStyle: { color: '#000', opacity: 0.3, borderWidth: 0 },
    silent: true
  });
  // strip label, centred over the full panel
  texts.push({
    type: 'text', x: g.left + 517.2 / 2, y: g.top - 12.8,
    style: { text: panelNames[i], fill: '#1a1a1a', font: '13px ' + fontFamily, align: 'center', verticalAlign: 'middle' }
  });
});

texts.push({
  type: 'text', x: 571.5, y: 556.5,
  style: { text: 'Distance in Demographics Space', fill: '#000', font: '16px ' + fontFamily, align: 'center', verticalAlign: 'middle' }
});
texts.push({
  type: 'text', x: 18, y: 275.5, rotation: Math.PI / 2,
  style: { text: 'Distance in CCP Space', fill: '#000', font: '16px ' + fontFamily, align: 'center', verticalAlign: 'middle' }
});

const option = {
  backgroundColor: '#ffffff',
  animation: false,
  grid: grids.map(g => ({ left: g.left, top: g.top, width: g.width, height: g.height, containLabel: false, outerBoundsMode: 'none' })),
  xAxis: xAxes,
  yAxis: yAxes,
  series: series,
  graphic: texts
};

chart.setOption(option);
</script>
</body>
</html>
